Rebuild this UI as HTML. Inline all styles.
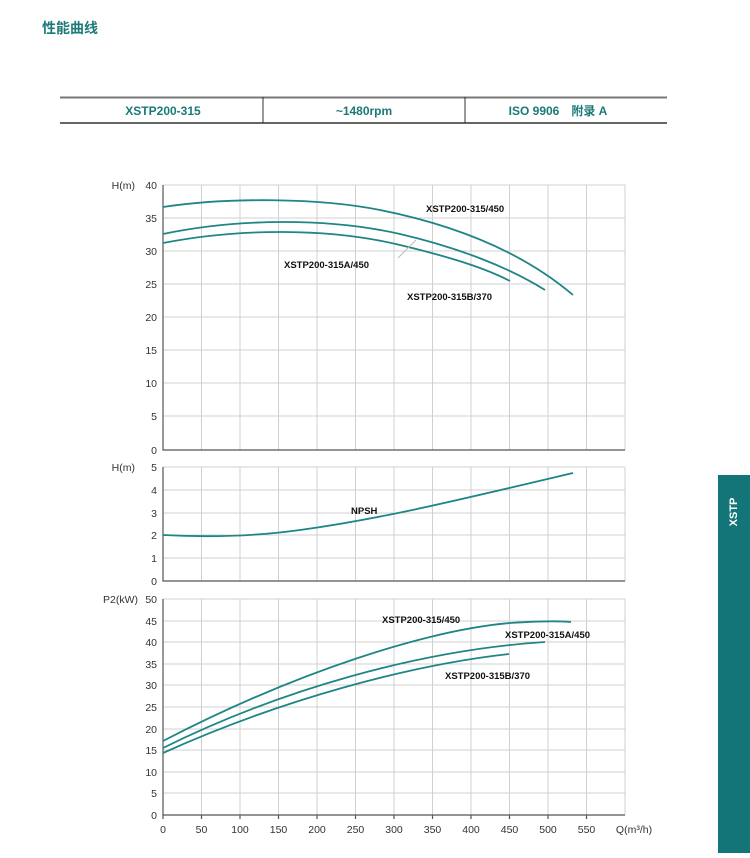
<!DOCTYPE html>
<html><head><meta charset="utf-8"><style>
body{margin:0;background:#fff;width:750px;height:853px;overflow:hidden;font-family:"Liberation Sans","Noto Sans CJK SC",sans-serif}
</style></head><body>
<svg width="750" height="853" xmlns="http://www.w3.org/2000/svg" font-family="Liberation Sans, Noto Sans CJK SC, sans-serif">
<text x="42" y="33" font-size="14" font-weight="bold" fill="#1a7a78">性能曲线</text>
<line x1="60" y1="97.5" x2="667" y2="97.5" stroke="#777" stroke-width="2"/>
<line x1="60" y1="123" x2="667" y2="123" stroke="#333" stroke-width="1.5"/>
<line x1="263" y1="97" x2="263" y2="123" stroke="#333"/>
<line x1="465" y1="97" x2="465" y2="123" stroke="#333"/>
<g font-size="12" font-weight="bold" fill="#1a7a78" text-anchor="middle">
<text x="163" y="115">XSTP200-315</text>
<text x="364" y="115">~1480rpm</text>
<text x="558" y="115">ISO 9906　附录 A</text>
</g>
<g stroke="#d0d0d0" stroke-width="1">
<path d="M201.5 185V450M240 185V450M278.5 185V450M317 185V450M355.5 185V450M394 185V450M432.5 185V450M471 185V450M509.5 185V450M548 185V450M586.5 185V450M625 185V450"/>
<path d="M163 185H625M163 218H625M163 251H625M163 284H625M163 317H625M163 350H625M163 383H625M163 416H625"/>
<path d="M201.5 467V581M240 467V581M278.5 467V581M317 467V581M355.5 467V581M394 467V581M432.5 467V581M471 467V581M509.5 467V581M548 467V581M586.5 467V581M625 467V581"/>
<path d="M163 467H625M163 490H625M163 513H625M163 535H625M163 558H625"/>
<path d="M201.5 599V815M240 599V815M278.5 599V815M317 599V815M355.5 599V815M394 599V815M432.5 599V815M471 599V815M509.5 599V815M548 599V815M586.5 599V815M625 599V815"/>
<path d="M163 599H625M163 621H625M163 642H625M163 664H625M163 685H625M163 707H625M163 729H625M163 750H625M163 772H625M163 793H625"/>
</g>
<g stroke="#555" stroke-width="1.2" fill="none">
<path d="M163 185V450H625"/><path d="M163 467V581H625"/><path d="M163 599V815H625"/>
<path d="M201.5 815v4M240 815v4M278.5 815v4M317 815v4M355.5 815v4M394 815v4M432.5 815v4M471 815v4M509.5 815v4M548 815v4M586.5 815v4M163 815v4"/>
</g>
<g font-size="10.5" fill="#333" text-anchor="end">
<text x="157" y="189">40</text><text x="157" y="222">35</text><text x="157" y="255">30</text><text x="157" y="288">25</text><text x="157" y="321">20</text><text x="157" y="354">15</text><text x="157" y="387">10</text><text x="157" y="420">5</text><text x="157" y="454">0</text>
<text x="157" y="471">5</text><text x="157" y="494">4</text><text x="157" y="517">3</text><text x="157" y="539">2</text><text x="157" y="562">1</text><text x="157" y="585">0</text>
<text x="157" y="603">50</text><text x="157" y="625">45</text><text x="157" y="646">40</text><text x="157" y="668">35</text><text x="157" y="689">30</text><text x="157" y="711">25</text><text x="157" y="733">20</text><text x="157" y="754">15</text><text x="157" y="776">10</text><text x="157" y="797">5</text><text x="157" y="819">0</text>
<text x="135" y="189">H(m)</text><text x="135" y="471">H(m)</text><text x="138" y="603">P2(kW)</text>
</g>
<g font-size="10.5" fill="#333" text-anchor="middle">
<text x="163" y="833">0</text><text x="201.5" y="833">50</text><text x="240" y="833">100</text><text x="278.5" y="833">150</text><text x="317" y="833">200</text><text x="355.5" y="833">250</text><text x="394" y="833">300</text><text x="432.5" y="833">350</text><text x="471" y="833">400</text><text x="509.5" y="833">450</text><text x="548" y="833">500</text><text x="586.5" y="833">550</text>
<text x="634" y="833" text-anchor="middle">Q(m³/h)</text>
</g>
<g stroke="#1f8585" stroke-width="1.8" fill="none">
<path d="M163 207C230 197 320 198 380 210C450 224 520 250 573 295"/>
<path d="M163 234C240 218 330 218 400 234C460 248 510 268 545 290"/>
<path d="M163 243C240 228 330 228 400 245C450 257 485 268 510 281"/>
<path d="M163 535C200 537 250 537 300 530C380 519 450 502 573 473"/>
<path d="M163 741C300 670 430 630 510 623C540 621 560 621 571 622"/>
<path d="M163 748C280 690 420 650 545 642"/>
<path d="M163 753C280 700 410 665 509 654"/>
</g>
<line x1="398" y1="258" x2="416" y2="240" stroke="#bbb" stroke-width="1"/>
<g font-size="9.5" font-weight="bold" fill="#111">
<text x="426" y="212">XSTP200-315/450</text>
<text x="284" y="268">XSTP200-315A/450</text>
<text x="407" y="300">XSTP200-315B/370</text>
<text x="351" y="514">NPSH</text>
<text x="382" y="623">XSTP200-315/450</text>
<text x="505" y="638">XSTP200-315A/450</text>
<text x="445" y="679">XSTP200-315B/370</text>
</g>
<rect x="718" y="475" width="32" height="378" fill="#137577"/>
<text transform="translate(737,512) rotate(-90)" font-size="11" font-weight="bold" fill="#fff" text-anchor="middle">XSTP</text>
</svg>
</body></html>
